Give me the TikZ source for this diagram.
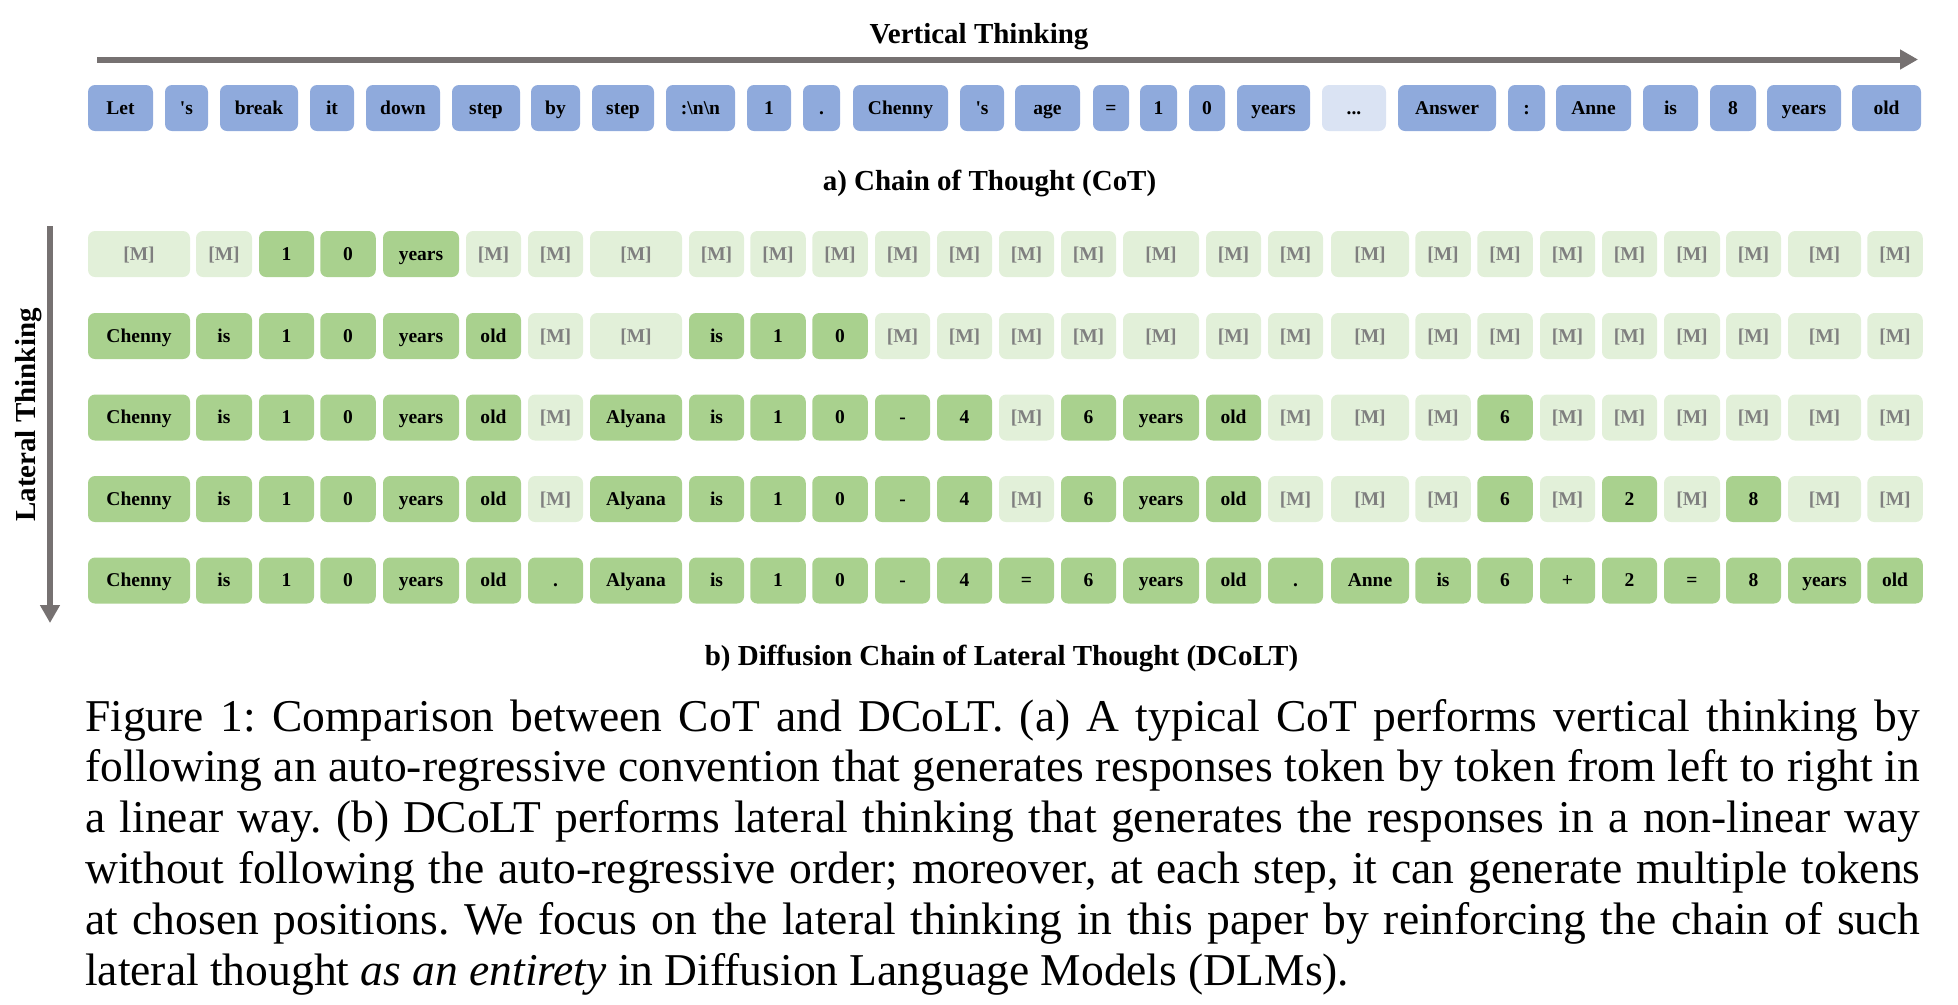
\documentclass[tikz,border=0pt]{standalone}
\usepackage{fontspec}
\setmainfont{Liberation Serif}
\usepackage{tikz}
\usetikzlibrary{arrows.meta}

\definecolor{cotblue}{HTML}{8FAADC}
\definecolor{cotpale}{HTML}{DAE3F3}
\definecolor{tokgreen}{HTML}{A9D18E}
\definecolor{maskgreen}{HTML}{E2F0D9}
\definecolor{maskgray}{HTML}{7F7F7F}
\definecolor{axisgray}{HTML}{767171}

\tikzset{
	tokbox/.style={rounded corners=0.07cm, minimum height=0.46cm, inner sep=0pt,
		text height=0.129cm, text depth=0pt, font=\fontsize{5.55}{6.5}\selectfont\bfseries},
	cot/.style={tokbox, fill=cotblue},
	cotmore/.style={tokbox, fill=cotpale},
	tok/.style={tokbox, fill=tokgreen},
	mask/.style={tokbox, fill=maskgreen, text=maskgray},
	axis/.style={draw=axisgray, line width=0.06cm, -{Triangle[length=0.18cm, width=0.19cm]}},
	heading/.style={anchor=base, inner sep=0pt, font=\fontsize{8.25}{10}\selectfont\bfseries},
	capline/.style={anchor=base west, inner sep=0pt, font=\fontsize{12.95}{14.5}\selectfont\frenchspacing}
}

% column centres and widths of the lateral rows
\def\colx{{1.39,2.24,2.865,3.48,4.21,4.935,5.555,6.36,7.165,7.78,8.40,9.025,9.645,10.265,10.885,11.61,12.335,12.955,13.70,14.43,15.05,15.675,16.295,16.92,17.535,18.245,18.95}}
\def\colw{{1.02,0.56,0.55,0.555,0.76,0.55,0.55,0.92,0.55,0.555,0.555,0.55,0.55,0.55,0.55,0.76,0.55,0.55,0.78,0.555,0.555,0.55,0.55,0.56,0.55,0.73,0.555}}
\def\masktok{M}
\def\moretok{...}

\begin{document}
\begin{tikzpicture}
	\useasboundingbox (0,0) rectangle (19.58,-10.04);

	% vertical thinking
	\coordinate (vstart) at (0.97,-0.595);
	\coordinate (vend) at (19.18,-0.595);
	\draw [axis] (vstart) -- (vend);
	\node [heading] (vtitle) at (9.79,-0.435) {Vertical Thinking};

	\foreach \x/\w/\s/\t [count=\c] in {1.205/0.65/cot/Let,1.865/0.43/cot/\textquotesingle s,2.59/0.78/cot/break,3.32/0.44/cot/it,
		4.03/0.74/cot/down,4.86/0.68/cot/step,5.555/0.49/cot/by,6.23/0.62/cot/step,
		7.005/0.69/cot/:\textbackslash n\textbackslash n,7.69/0.44/cot/1,8.215/0.37/cot/.,9.005/0.95/cot/Chenny,
		9.82/0.44/cot/\textquotesingle s,10.475/0.65/cot/age,11.11/0.36/cot/=,11.585/0.37/cot/1,
		12.07/0.36/cot/0,12.735/0.73/cot/years,13.54/0.64/cotmore/\moretok,14.47/0.98/cot/Answer,
		15.265/0.37/cot/:,15.935/0.75/cot/Anne,16.705/0.55/cot/is,17.33/0.46/cot/8,
		18.04/0.74/cot/years,18.865/0.69/cot/old}
		\node [\s, minimum width=\w cm] (c\c) at (\x,-1.08) {\t};

	\node [heading] (cotlabel) at (9.895,-1.905) {a) Chain of Thought (CoT)};

	% lateral thinking
	\coordinate (lstart) at (0.50,-2.26);
	\coordinate (lend) at (0.50,-6.23);
	\draw [axis] (lstart) -- (lend);
	\node [heading, rotate=90] (ltitle) at (0.35,-4.15) {Lateral Thinking};

	\foreach \y/\row [count=\r] in {
		-2.54/{M,M,1,0,years,M,M,M,M,M,M,M,M,M,M,M,M,M,M,M,M,M,M,M,M,M,M},
		-3.36/{Chenny,is,1,0,years,old,M,M,is,1,0,M,M,M,M,M,M,M,M,M,M,M,M,M,M,M,M},
		-4.175/{Chenny,is,1,0,years,old,M,Alyana,is,1,0,-,4,M,6,years,old,M,M,M,6,M,M,M,M,M,M},
		-4.99/{Chenny,is,1,0,years,old,M,Alyana,is,1,0,-,4,M,6,years,old,M,M,M,6,M,2,M,8,M,M},
		-5.805/{Chenny,is,1,0,years,old,.,Alyana,is,1,0,-,4,=,6,years,old,.,Anne,is,6,+,2,=,8,years,old}} {
		\foreach \t [count=\c] in \row {
			\pgfmathsetmacro\x{\colx[\c-1]}
			\pgfmathsetmacro\w{\colw[\c-1]}
			\ifx\t\masktok
				\node [mask, minimum width=\w cm] (t\r-\c) at (\x,\y) {[M]};
			\else
				\node [tok, minimum width=\w cm] (t\r-\c) at (\x,\y) {\t};
			\fi
		}
	}

	\node [heading] (dcoltlabel) at (10.015,-6.65) {b) Diffusion Chain of Lateral Thought (DCoLT)};

	% caption
	\node [capline] (cap1) at (0.845,-7.31) {\makebox[18.35cm][s]{Figure 1: Comparison between CoT and DCoLT. (a) A typical CoT performs vertical thinking by}};
	\node [capline] (cap2) at (0.845,-7.818) {\makebox[18.35cm][s]{following an auto-regressive convention that generates responses token by token from left to right in}};
	\node [capline] (cap3) at (0.845,-8.326) {\makebox[18.35cm][s]{a linear way. (b) DCoLT performs lateral thinking that generates the responses in a non-linear way}};
	\node [capline] (cap4) at (0.845,-8.834) {\makebox[18.35cm][s]{without following the auto-regressive order; moreover, at each step, it can generate multiple tokens}};
	\node [capline] (cap5) at (0.845,-9.342) {\makebox[18.35cm][s]{at chosen positions. We focus on the lateral thinking in this paper by reinforcing the chain of such}};
	\node [capline] (cap6) at (0.845,-9.85) {lateral thought \textit{as an entirety} in Diffusion Language Models (DLMs).};
\end{tikzpicture}
\end{document}
